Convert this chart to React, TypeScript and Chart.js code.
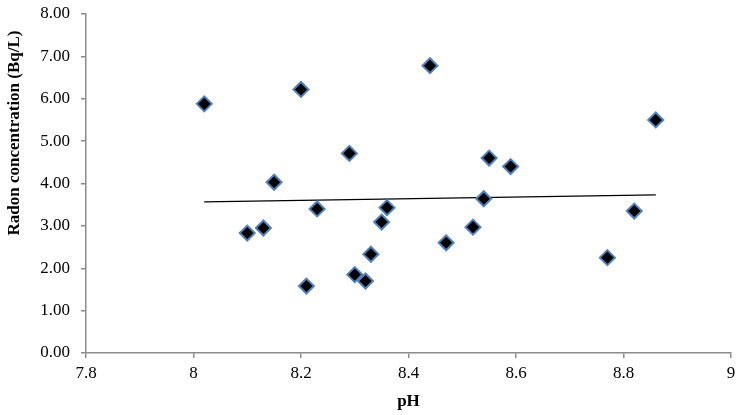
import React, { useEffect, useRef } from "react";
import { Chart, registerables } from "chart.js";

Chart.register(...registerables);

const phValues = [8.02, 8.10, 8.13, 8.15, 8.20, 8.21, 8.23, 8.29, 8.30, 8.32, 8.33, 8.35, 8.36, 8.44, 8.47, 8.52, 8.54, 8.55, 8.59, 8.77, 8.82, 8.86];
const radonValues = [5.88, 2.83, 2.95, 4.03, 6.22, 1.58, 3.40, 4.71, 1.85, 1.70, 2.33, 3.09, 3.43, 6.78, 2.60, 2.97, 3.64, 4.60, 4.40, 2.25, 3.35, 5.50];
const xTitle = "pH";
const yTitle = "Radon concentration (Bq/L)";

const FONT = "'Liberation Serif', 'Times New Roman', serif";

function trend(xs: number[], ys: number[]) {
  const n = xs.length;
  const mx = xs.reduce((a, b) => a + b, 0) / n;
  const my = ys.reduce((a, b) => a + b, 0) / n;
  let sxy = 0, sxx = 0;
  for (let i = 0; i < n; i++) {
    sxy += (xs[i] - mx) * (ys[i] - my);
    sxx += (xs[i] - mx) * (xs[i] - mx);
  }
  const m = sxy / sxx;
  const b = my - m * mx;
  const x0 = Math.min(...xs), x1 = Math.max(...xs);
  return [{ x: x0, y: m * x0 + b }, { x: x1, y: m * x1 + b }];
}

const yTitlePlugin = {
  id: "yTitlePlugin",
  afterDraw(chart: any) {
    const { ctx, chartArea } = chart;
    const cy = chartArea.top + (chartArea.bottom - chartArea.top) * 0.351;
    ctx.save();
    ctx.translate(15, cy);
    ctx.rotate(-Math.PI / 2);
    ctx.font = `bold 17px ${FONT}`;
    ctx.fillStyle = "#000";
    ctx.textAlign = "center";
    ctx.textBaseline = "middle";
    ctx.fillText(yTitle, 0, 0);
    ctx.restore();
  },
};

export default function App() {
  const ref = useRef<HTMLCanvasElement>(null);
  useEffect(() => {
    document.body.style.margin = "0";
    const chart = new Chart(ref.current!, {
      type: "scatter",
      data: {
        datasets: [
          {
            label: "Radon",
            data: phValues.map((x, i) => ({ x, y: radonValues[i] })),
            pointStyle: "rectRot",
            pointRadius: 7.5,
            pointHoverRadius: 7.5,
            backgroundColor: "#000000",
            borderColor: "#4f81bd",
            borderWidth: 2,
            order: 1,
          },
          {
            label: "Trend",
            type: "line",
            data: trend(phValues, radonValues),
            borderColor: "#000000",
            borderWidth: 1.3,
            pointRadius: 0,
            fill: false,
            order: 2,
          } as any,
        ],
      },
      options: {
        responsive: false,
        animation: false,
        layout: { padding: { top: 14, right: 12, left: 0, bottom: 0 } },
        plugins: { legend: { display: false }, tooltip: { enabled: false } },
        scales: {
          x: {
            type: "linear",
            min: 7.8,
            max: 9,
            afterFit: (s: any) => { s.height = 62; },
            ticks: {
              stepSize: 0.2,
              color: "#000",
              font: { family: FONT, size: 17 },
              padding: 5,
              callback: (v: any) => String(Number(Number(v).toFixed(1))),
            },
            grid: { drawOnChartArea: false, color: "#8c8c8c", tickLength: 5, lineWidth: 1.5 },
            border: { color: "#8c8c8c", width: 1.5 },
            title: { display: true, text: xTitle, color: "#000", font: { family: FONT, size: 17, weight: "bold" }, padding: { top: 0, bottom: 3 } },
          },
          y: {
            type: "linear",
            min: 0,
            max: 8,
            afterFit: (s: any) => { s.width = 86; s.paddingTop = 0; s.paddingBottom = 0; },
            ticks: {
              stepSize: 1,
              color: "#000",
              font: { family: FONT, size: 17 },
              padding: 11,
              callback: (v: any) => Number(v).toFixed(2),
            },
            grid: { drawOnChartArea: false, color: "#8c8c8c", tickLength: 5, lineWidth: 1.5 },
            border: { color: "#8c8c8c", width: 1.5 },
          },
        },
      },
      plugins: [yTitlePlugin],
    });
    return () => chart.destroy();
  }, []);
  return <canvas ref={ref} width={743} height={415} style={{ display: "block" }} />;
}
